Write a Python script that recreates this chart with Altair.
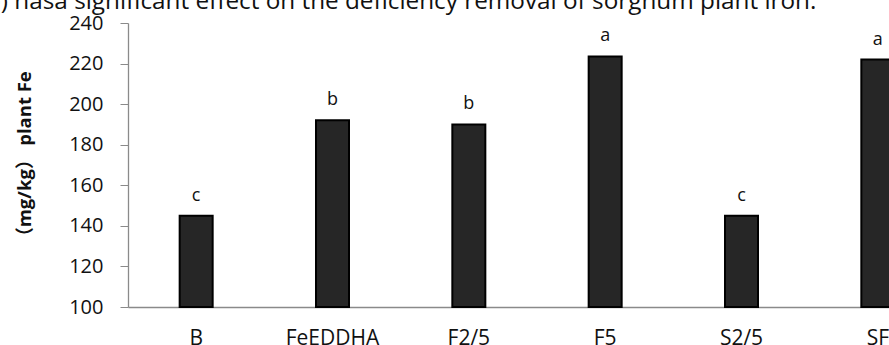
import altair as alt
import pandas as pd

# Treatments, plant Fe concentration (mg/kg) and significance groups
treatments = ["B", "FeEDDHA", "F2/5", "F5", "S2/5", "SF"]
plant_fe = [145, 192, 190, 223.5, 145, 222]
groups = ["c", "b", "b", "a", "c", "a"]

caption = "b) hasa significant effect on the deficiency removal of sorghum plant iron."

df = pd.DataFrame({"treatment": treatments, "fe": plant_fe, "group": groups})
df["base"] = 100

x_scale = alt.Scale(range=[0, 818], paddingInner=0, paddingOuter=0)

x_enc = alt.X(
    "treatment:N",
    sort=treatments,
    scale=x_scale,
    axis=alt.Axis(
        title=None,
        ticks=False,
        labelAngle=0,
        labelFont="Open Sans",
        labelFontSize=21,
        labelColor="#111111",
        labelPadding=20,
        domainColor="#8a8a8a",
        domainWidth=1.3,
    ),
)

y_enc = alt.Y(
    "fe:Q",
    scale=alt.Scale(domain=[100, 240], nice=False, zero=False),
    axis=alt.Axis(
        values=list(range(100, 241, 20)),
        grid=False,
        tickSize=8,
        tickColor="#8a8a8a",
        domainColor="#8a8a8a",
        domainWidth=1.3,
        labelFont="Open Sans",
        labelFontSize=20,
        labelColor="#111111",
        labelPadding=17,
        title="（mg/kg） plant Fe",
        titleFont="Open Sans, Noto Sans CJK SC",
        titleFontSize=18.5,
        titleFontWeight="bold",
        titleColor="#111111",
        titleAngle=-90,
        titleX=-104,
        titleY=135,
        titleAlign="center",
        titleBaseline="middle",
    ),
)

bars = alt.Chart(df).mark_bar(
    size=33, color="#262626", stroke="#000000", strokeWidth=2
).encode(x=x_enc, y=y_enc, y2="base:Q")

letters = alt.Chart(df).mark_text(
    font="Open Sans", fontSize=18, color="#111111", baseline="alphabetic", dy=-15
).encode(x=alt.X("treatment:N", sort=treatments), y="fe:Q", text="group:N")

heading = alt.Chart(pd.DataFrame({"t": [caption]})).mark_text(
    font="Open Sans", fontSize=24.3, color="#111111", align="left", baseline="alphabetic"
).encode(x=alt.value(-142), y=alt.value(-14), text="t:N")

chart = (
    alt.layer(bars, letters, heading)
    .properties(
        width=761,
        height=284,
        padding={"left": 128, "top": 23, "right": 0, "bottom": 38},
        autosize=alt.AutoSizeParams(type="none"),
        background="white",
    )
    .configure_view(stroke=None)
)

chart.save("out.html", embed_options={"renderer": "svg", "actions": False})
